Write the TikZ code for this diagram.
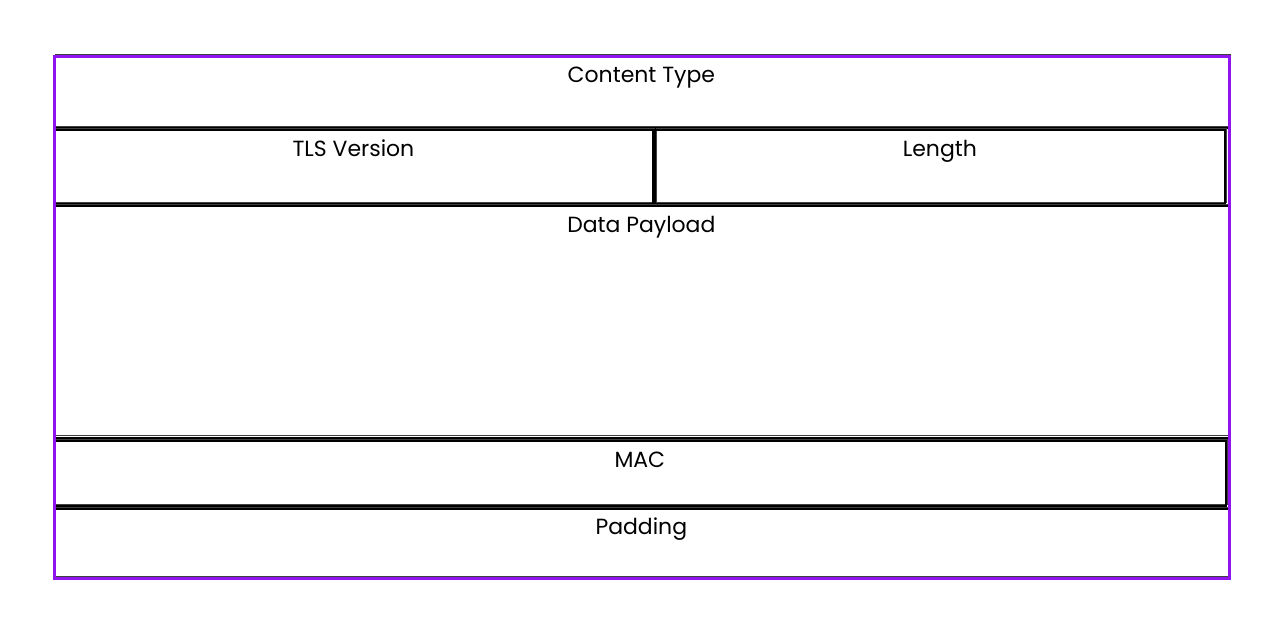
\documentclass[tikz,border=0pt]{standalone}
\usepackage{fontspec}
\setmainfont{Poppins}
\usepackage{xcolor}
\definecolor{recpurple}{HTML}{8F14F0}

\begin{document}
\begin{tikzpicture}[x=0.02cm,y=-0.02cm]
\tikzstyle{every node}+=[inner sep=0pt]
\tikzstyle{field}=[draw=black, line width=1.1pt, anchor=north west,
  preaction={draw=black!75, line width=0.5pt, transform canvas={shift={(0.03cm,0.04cm)}}}]
\tikzstyle{lbl}=[anchor=base, font=\fontsize{12.5}{14}\selectfont]
\useasboundingbox (0,0) rectangle (1272,618);
% fields
\node [field, minimum width=23.5cm, minimum height=1.44cm] (ct) at (53,55) {};
\node [field, minimum width=11.98cm, minimum height=1.48cm] (ver) at (53,129) {};
\node [field, minimum width=11.4cm, minimum height=1.48cm] (len) at (654,129) {};
\node [field, minimum width=23.5cm, minimum height=4.64cm] (data) at (53,205) {};
\node [field, minimum width=23.44cm, minimum height=1.3cm] (mac) at (53,440) {};
\node [field, minimum width=23.5cm, minimum height=1.38cm] (pad) at (53,508) {};
% labels
\node [lbl] (ctText) at ([yshift=-0.55cm]ct.north) {Content Type};
\node [lbl] (verText) at ([yshift=-0.56cm]ver.north) {TLS Version};
\node [lbl] (lenText) at ([yshift=-0.56cm]len.north) {Length};
\node [lbl] (dataText) at ([yshift=-0.55cm]data.north) {Data Payload};
\node [lbl] (macText) at ([yshift=-0.56cm]mac.north) {MAC};
\node [lbl] (padText) at ([yshift=-0.54cm]pad.north) {Padding};
% record
\node [draw=recpurple, line width=1.6pt, anchor=north west,
  minimum width=23.5cm, minimum height=10.44cm] (rec) at (53,55) {};
\end{tikzpicture}
\end{document}
